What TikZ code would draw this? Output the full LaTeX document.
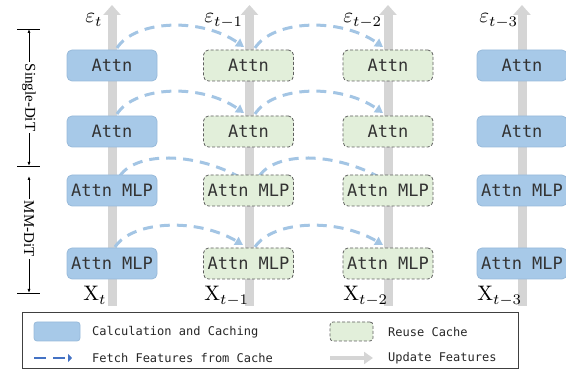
\documentclass[tikz,border=0pt]{standalone}
\usepackage{fontspec}
\newfontfamily\monofnt{DejaVu Sans Mono}
\newfontfamily\brfnt{Liberation Serif}
\usetikzlibrary{arrows.meta}
\definecolor{boxblue}{RGB}{167,201,232}
\definecolor{boxblueline}{RGB}{152,186,218}
\definecolor{boxgreen}{RGB}{226,239,218}
\definecolor{greenline}{RGB}{95,95,95}
\definecolor{flow}{RGB}{213,213,213}
\definecolor{fetch}{RGB}{163,197,228}
\definecolor{txt}{RGB}{51,51,51}
\definecolor{legdash}{RGB}{68,114,196}
\definecolor{legline}{RGB}{64,64,64}
\begin{document}
\begin{tikzpicture}[x=1pt,y=-1pt,
  calc/.style={rectangle, rounded corners=5pt, fill=boxblue, draw=boxblueline, line width=0.8pt,
    minimum width=90pt, minimum height=31pt, inner sep=0pt,
    font=\monofnt\fontsize{17}{17}\selectfont, text=txt},
  reuse/.style={calc, fill=boxgreen, draw=greenline, dash pattern=on 3pt off 2pt},
  update/.style={draw=flow, line width=9pt, -{Triangle[length=10pt,width=17pt]}},
  fetchline/.style={draw=fetch, line width=3pt, dash pattern=on 10pt off 7pt},
  fetcharrow/.style={fetchline, -{Triangle[length=8pt,width=9pt]}},
  steplbl/.style={anchor=base west, inner sep=0pt, scale=2.1},
  legtext/.style={anchor=west, inner sep=0pt, font=\monofnt\fontsize{12}{12}\selectfont, text=black!85},
  bracketline/.style={line width=0.8pt, {Latex[length=4pt,width=3pt]}-{Latex[length=4pt,width=3pt]}},
  bracketlbl/.style={fill=white, rotate=-90, inner sep=2pt, font=\brfnt\fontsize{15}{15}\selectfont}
]
\useasboundingbox (0,0) rectangle (566,371);

% update arrows (columns)
\foreach \i/\x in {1/112,2/249.5,3/388,4/522}{
  \coordinate (bot\i) at (\x,306);
  \coordinate (top\i) at (\x,5);
  \draw[update] (bot\i) -- (top\i);
}

% box positions
\path
  (112,65.5)  coordinate (p11) (248.5,65.5)  coordinate (p12) (388,65.5)  coordinate (p13) (522,65.5)  coordinate (p14)
  (112,131.5) coordinate (p21) (248.5,131.5) coordinate (p22) (388,131.5) coordinate (p23) (522,131.5) coordinate (p24)
  (112,190.5) coordinate (p31) (248.5,190.5) coordinate (p32) (388,190.5) coordinate (p33) (522,190.5) coordinate (p34)
  (112,263.5) coordinate (p41) (248.5,263.5) coordinate (p42) (388,263.5) coordinate (p43) (522,263.5) coordinate (p44);

% fetch curves (behind boxes)
\foreach \r in {1,2}{
  \draw[fetcharrow] ([xshift=5pt,yshift=17.5pt]p\r1) .. controls +(18,-28) and +(-43,-30) .. ([xshift=-4.5pt,yshift=18.5pt]p\r2);
  \draw[fetcharrow] ([xshift=6.5pt,yshift=17.5pt]p\r2) .. controls +(18,-28) and +(-43,-30) .. ([xshift=-5pt,yshift=18.5pt]p\r3);
}
\draw[fetchline] ([xshift=8pt,yshift=15pt]p31) .. controls +(18,-24) and +(-45,-24) .. ([xshift=-10pt,yshift=14pt]p32);
\draw[fetchline] ([xshift=11pt,yshift=15pt]p32) .. controls +(18,-24) and +(-45,-24) .. ([xshift=-10pt,yshift=14pt]p33);
\draw[fetcharrow] ([xshift=3pt,yshift=16.5pt]p41) .. controls +(18,-27) and +(-45,-27) .. ([xshift=-5.5pt,yshift=18.5pt]p42);
\draw[fetcharrow] ([xshift=6.5pt,yshift=16.5pt]p42) .. controls +(18,-27) and +(-45,-27) .. ([xshift=-5pt,yshift=18.5pt]p43);

% boxes
\node[calc]  (b11) at (p11) {Attn};
\node[reuse] (b12) at (p12) {Attn};
\node[reuse] (b13) at (p13) {Attn};
\node[calc]  (b14) at (p14) {Attn};
\node[calc]  (b21) at (p21) {Attn};
\node[reuse] (b22) at (p22) {Attn};
\node[reuse] (b23) at (p23) {Attn};
\node[calc]  (b24) at (p24) {Attn};
\node[calc]  (b31) at (p31) {Attn MLP};
\node[reuse] (b32) at (p32) {Attn MLP};
\node[reuse] (b33) at (p33) {Attn MLP};
\node[calc]  (b34) at (p34) {Attn MLP};
\node[calc]  (b41) at (p41) {Attn MLP};
\node[reuse] (b42) at (p42) {Attn MLP};
\node[reuse] (b43) at (p43) {Attn MLP};
\node[calc]  (b44) at (p44) {Attn MLP};

% labels
\node[steplbl] (e1) at (85,23)  {$\varepsilon_t$};
\node[steplbl] (e2) at (204,23) {$\varepsilon_{t-1}$};
\node[steplbl] (e3) at (343,23) {$\varepsilon_{t-2}$};
\node[steplbl] (e4) at (479,23) {$\varepsilon_{t-3}$};
\node[steplbl] (x1) at (83,301)  {$\mathrm{X}_t$};
\node[steplbl] (x2) at (204,301) {$\mathrm{X}_{t-1}$};
\node[steplbl] (x3) at (343,301) {$\mathrm{X}_{t-2}$};
\node[steplbl] (x4) at (477,301) {$\mathrm{X}_{t-3}$};

% brackets
\coordinate (s1) at (29,29);
\coordinate (s2) at (29,166);
\coordinate (m1) at (29,176);
\coordinate (m2) at (29,293);
\draw[line width=0.8pt] ([xshift=-12pt]s1) -- ([xshift=11pt]s1);
\draw[line width=0.8pt] ([xshift=-12pt]s2) -- ([xshift=11pt]s2);
\draw[line width=0.8pt] ([xshift=-12pt]m2) -- ([xshift=11pt]m2);
\draw[bracketline] (s1) -- (s2) node[bracketlbl, midway] (sd) {Single-DiT};
\draw[bracketline] (m1) -- (m2) node[bracketlbl, pos=0.45] (md) {MM-DiT};

% legend
\node[draw=legline, line width=1pt, minimum width=496pt, minimum height=56pt, inner sep=0pt] (legend) at (270,341) {};
\node[calc, minimum width=46pt, minimum height=19pt, rounded corners=3pt] (lcalc) at (57,331.5) {};
\node[legtext] (tcalc) at (92,332) {Calculation and Caching};
\node[reuse, minimum width=43pt, minimum height=19pt, rounded corners=3pt] (lreuse) at (351.5,331.5) {};
\node[legtext] (treuse) at (388,332) {Reuse Cache};
\coordinate (fa) at (34,358);
\coordinate (fb) at (72,358);
\draw[draw=legdash, line width=2.8pt, dash pattern=on 12pt off 7pt, -{Triangle[length=4pt,width=8pt]}] (fa) -- (fb);
\node[legtext] (tfetch) at (92,358) {Fetch Features from Cache};
\coordinate (ua) at (330,358);
\coordinate (ub) at (373,358);
\draw[draw=flow, line width=4pt, -{Triangle[length=9pt,width=12pt]}] (ua) -- (ub);
\node[legtext] (tupd) at (388,358) {Update Features};
\end{tikzpicture}
\end{document}
